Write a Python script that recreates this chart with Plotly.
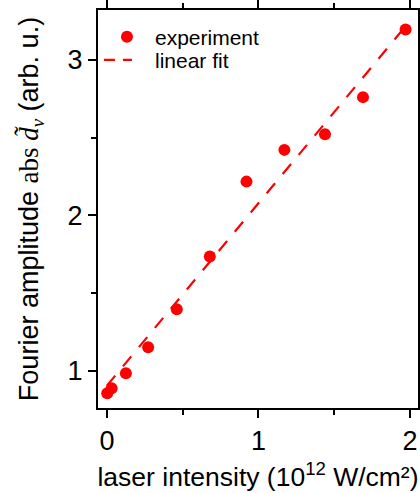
import plotly.graph_objects as go

# measured data
intensity = [0.002, 0.031, 0.125, 0.272, 0.461, 0.679, 0.921, 1.171, 1.439, 1.690, 1.971]
amplitude = [0.857, 0.889, 0.985, 1.152, 1.397, 1.735, 2.217, 2.421, 2.522, 2.760, 3.195]

# linear fit parameters
fit_slope = 1.172
fit_intercept = 0.906
fit_x = [0.0, 1.97]
fit_y = [fit_intercept + fit_slope * x for x in fit_x]

RED = "#ff0000"
FONT = "Liberation Sans, Arial, sans-serif"

fig = go.Figure()
fig.add_trace(go.Scatter(
    x=fit_x, y=fit_y, mode="lines", name="linear fit", showlegend=False,
    line=dict(color=RED, width=2.2, dash="13px,12px"),
))
fig.add_trace(go.Scatter(
    x=intensity, y=amplitude, mode="markers", name="experiment",
    marker=dict(color=RED, size=12, line=dict(width=0)), legend="legend",
))
# legend entry for the fit (same style, shorter dash period to fit the legend sample)
fig.add_trace(go.Scatter(
    x=[None], y=[None], mode="lines", name="linear fit", legend="legend2",
    line=dict(color=RED, width=2.2, dash="11px,8px,9px,100px"),
))

axis_common = dict(
    showline=True, linecolor="black", linewidth=2, mirror="ticks",
    ticks="outside", ticklen=8, tickwidth=2, tickcolor="black",
    showgrid=False, zeroline=False, automargin=False,
    tickfont=dict(family=FONT, size=27, color="black"),
    minor=dict(ticks="outside", ticklen=5, tickwidth=2, tickcolor="black", dtick=0.5, showgrid=False),
)

legend_common = dict(
    xanchor="left", yanchor="middle",
    font=dict(family=FONT, size=21, color="black"),
    bgcolor="rgba(0,0,0,0)", itemwidth=46, borderwidth=0,
)

fig.update_layout(
    width=420, height=493,
    margin=dict(l=98, r=2, t=10, b=85, autoexpand=False),
    plot_bgcolor="white", paper_bgcolor="white",
    font=dict(family=FONT, color="black"),
    showlegend=True,
    legend=dict(x=0.003, y=0.932, **legend_common),
    legend2=dict(x=0.003, y=0.874, **legend_common),
    xaxis=dict(
        range=[-0.059, 2.053], tickvals=[0, 1, 2],
        title=dict(text="laser intensity (10<sup>12</sup> W/cm²)", font=dict(family=FONT, size=26.5), standoff=12),
        **axis_common,
    ),
    yaxis=dict(
        range=[0.762, 3.32], tickvals=[1, 2, 3],
        title=dict(
            text="Fourier amplitude <span style='font-family:Liberation Serif, Times New Roman, serif'>abs <i>d\u0303</i><sub><i>v</i></sub></span> (arb. u.)",
            font=dict(family=FONT, size=27), standoff=21,
        ),
        **axis_common,
    ),
)

fig.write_html("out.html")
